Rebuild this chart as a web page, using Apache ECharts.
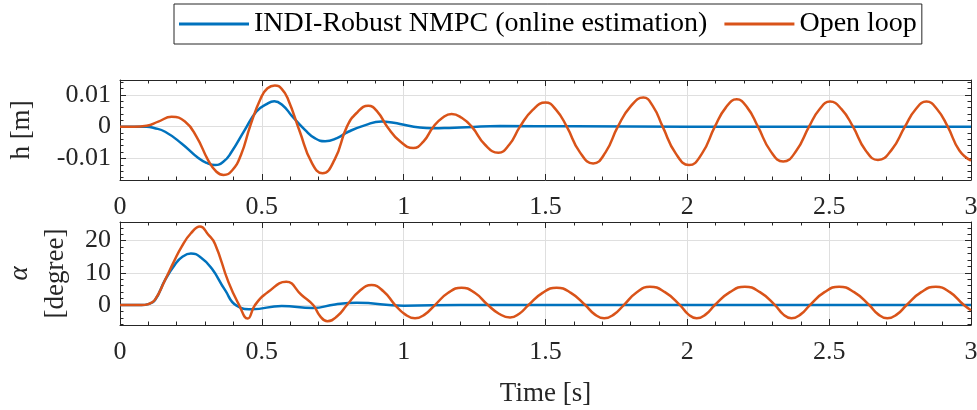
<!DOCTYPE html>
<html><head><meta charset="utf-8">
<script src="https://cdn.jsdelivr.net/npm/echarts@6/dist/echarts.min.js"></script>
<style>html,body{margin:0;padding:0;background:#fff}#c{width:977px;height:410px}</style>
</head><body><div id="c"></div>
<script>
// ---- data ----
const seriesNames = ['INDI-Robust NMPC (online estimation)', 'Open loop'];
const xTicks = [0, 0.5, 1, 1.5, 2, 2.5, 3];

const hCtrlT = [0, 0.05, 0.094, 0.12, 0.159, 0.217, 0.276, 0.305, 0.335, 0.365, 0.393, 0.44, 0.481, 0.515, 0.544, 0.575, 0.605, 0.652, 0.688, 0.723, 0.765, 0.805, 0.865, 0.922, 0.965, 1.005, 1.05, 1.104, 1.16, 1.222, 1.34, 1.6, 2.0, 2.5, 3.0];
const hCtrl  = [0, 0, 0, -0.0004, -0.0016, -0.0053, -0.0099, -0.0114, -0.0121, -0.0110, -0.0080, -0.0010, 0.0048, 0.0070, 0.0080, 0.0066, 0.0035, -0.0010, -0.0037, -0.0046, -0.0036, -0.0016, 0.0005, 0.0016, 0.0012, 0.0005, -0.0002, -0.0005, -0.0004, -0.0002, 0.0002, 0.0001, 0, 0, 0];

const hOpenT = [0, 0.05, 0.094, 0.135, 0.182, 0.229, 0.27, 0.311, 0.34, 0.365, 0.395, 0.426, 0.46, 0.497, 0.52, 0.546, 0.57, 0.593, 0.634, 0.675, 0.714, 0.757, 0.8, 0.8375, 0.875, 0.9085, 0.942, 0.988, 1.034, 1.0695, 1.105, 1.137, 1.169, 1.2045, 1.24, 1.287, 1.334, 1.372, 1.41, 1.455, 1.50, 1.5375, 1.575, 1.6215, 1.668, 1.7115, 1.755, 1.80, 1.845, 1.879, 1.913, 1.9595, 2.006, 2.0515, 2.097, 2.1355, 2.174, 2.2115, 2.249, 2.2935, 2.338, 2.3835, 2.429, 2.466, 2.503, 2.5435, 2.584, 2.628, 2.672, 2.7195, 2.767, 2.805, 2.843, 2.8805, 2.918, 2.959, 3.0];
const hOpen  = [0, 0, 0.0003, 0.0016, 0.0031, 0.0016, -0.0032, -0.0106, -0.0142, -0.0152, -0.0138, -0.0090, 0.0005, 0.0091, 0.0121, 0.0130, 0.0119, 0.0085, -0.0016, -0.0112, -0.0147, -0.0103, 0, 0.0046, 0.0066, 0.0046, 0, -0.0047, -0.0067, -0.0047, 0, 0.0028, 0.0040, 0.0028, 0, -0.0057, -0.0082, -0.0057, 0, 0.0053, 0.0076, 0.0053, 0, -0.0081, -0.0116, -0.0081, 0, 0.0064, 0.0092, 0.0064, 0, -0.0085, -0.0121, -0.0085, 0, 0.0060, 0.0086, 0.0060, 0, -0.0077, -0.0110, -0.0077, 0, 0.0055, 0.0079, 0.0055, 0, -0.0074, -0.0105, -0.0074, 0, 0.0055, 0.0079, 0.0055, 0, -0.0075, -0.0107];

const aCtrlT = [0, 0.076, 0.1, 0.123, 0.159, 0.194, 0.22, 0.25, 0.285, 0.323, 0.37, 0.411, 0.464, 0.57, 0.68, 0.758, 0.834, 1.0, 1.2, 2.0, 3.0];
const aCtrl  = [0, 0, 0.3, 1.5, 7.8, 12.6, 15.0, 16.0, 14.8, 11.4, 4.7, -0.2, -1.3, -0.3, -0.9, 0.2, 0.7, -0.2, 0, 0, 0];

const aOpenT = [0, 0.076, 0.1, 0.123, 0.159, 0.19, 0.217, 0.25, 0.282, 0.31, 0.335, 0.382, 0.42, 0.45, 0.476, 0.523, 0.586, 0.64, 0.681, 0.706, 0.731, 0.7655, 0.80, 0.8435, 0.887, 0.9285, 0.97, 1.005, 1.04, 1.075, 1.11, 1.157, 1.204, 1.2505, 1.297, 1.336, 1.375, 1.4075, 1.44, 1.4895, 1.539, 1.5895, 1.64, 1.6735, 1.707, 1.7415, 1.776, 1.822, 1.868, 1.921, 1.974, 2.0035, 2.033, 2.065, 2.097, 2.15, 2.203, 2.256, 2.309, 2.338, 2.367, 2.3995, 2.432, 2.4835, 2.535, 2.588, 2.641, 2.673, 2.705, 2.739, 2.773, 2.8245, 2.876, 2.9255, 2.975, 3.0];
const aOpen  = [0, 0, 0.3, 1.6, 7.8, 13.5, 18.1, 22.3, 24.4, 22.0, 19.0, 7.2, 0, -4.2, 0, 4.1, 7.2, 3.1, 0, -3.5, -5.0, -3.5, 0, 4.3, 6.2, 4.3, 0, -2.9, -4.1, -2.9, 0, 3.8, 5.4, 3.8, 0, -2.7, -3.9, -2.7, 0, 3.8, 5.4, 3.8, 0, -2.9, -4.1, -2.9, 0, 4.0, 5.7, 4.0, 0, -2.9, -4.1, -2.9, 0, 4.0, 5.7, 4.0, 0, -2.9, -4.1, -2.9, 0, 4.0, 5.7, 4.0, 0, -2.9, -4.1, -2.9, 0, 4.0, 5.7, 4.0, 0, -1.6];

const hRange = [-0.0168, 0.0147];
const aRange = [-6.2, 25.8];

// ---- chart ----
const zip = (t, v) => t.map((x, i) => [x, v[i]]);
const FONT = 'Liberation Serif';
const DARK = '#262626';
const GRIDC = '#dfdfdf';
const BLUE = '#0072BD', ORANGE = '#D95319';

function xAx(grid, pos, labels, name) {
  return {
    type: 'value', gridIndex: grid, position: pos, min: xTicks[0], max: xTicks[xTicks.length - 1], interval: 0.5,
    name: name || '', nameLocation: 'middle', nameGap: 55, nameMoveOverlap: false,
    nameTextStyle: { fontFamily: FONT, fontSize: 27, color: DARK },
    axisLine: { show: true, onZero: false, lineStyle: { color: DARK, width: 1 } },
    axisTick: { show: true, inside: true, length: 6, lineStyle: { color: DARK } },
    minorTick: { show: true, splitNumber: 5, length: 3.5, lineStyle: { color: DARK } },
    axisLabel: { show: labels, margin: 14, fontFamily: FONT, fontSize: 26, color: DARK },
    splitLine: { show: pos === 'bottom', lineStyle: { color: GRIDC, width: 1 } },
    minorSplitLine: { show: false }
  };
}
function yAx(grid, pos, range, labels, name, nameGap) {
  return {
    type: 'value', gridIndex: grid, position: pos, min: range[0], max: range[1], splitNumber: 3,
    name: name || '', nameLocation: 'middle', nameGap: nameGap || 0, nameRotate: 90, nameMoveOverlap: false,
    nameTextStyle: { fontFamily: FONT, fontSize: 27, color: DARK, lineHeight: 36,
      rich: { a: { fontFamily: FONT, fontSize: 27, fontStyle: 'italic', color: DARK, lineHeight: 36 } } },
    axisLine: { show: true, onZero: false, lineStyle: { color: DARK, width: 1 } },
    axisTick: { show: true, inside: true, length: 6, lineStyle: { color: DARK } },
    minorTick: { show: true, splitNumber: 5, length: 3.5, lineStyle: { color: DARK } },
    axisLabel: { show: labels, margin: 9, fontFamily: FONT, fontSize: 26, color: DARK, showMinLabel: false, showMaxLabel: false },
    splitLine: { show: pos === 'left', lineStyle: { color: GRIDC, width: 1 } }
  };
}
function line(name, data, xi, yi, color) {
  return { name, type: 'line', xAxisIndex: xi, yAxisIndex: yi, data, smooth: 0.5, symbol: 'none',
    lineStyle: { color, width: 2.5 }, itemStyle: { color }, animation: false };
}

const chart = echarts.init(document.getElementById('c'), null, { renderer: 'canvas' });
chart.setOption({
  animation: false,
  backgroundColor: '#fff',
  legend: {
    data: seriesNames, left: 174, top: 4, orient: 'horizontal', icon: 'rect',
    padding: [6, 5], itemGap: 17, itemWidth: 70, itemHeight: 3,
    borderColor: DARK, borderWidth: 1, backgroundColor: '#fff',
    textStyle: { fontFamily: FONT, fontSize: 28, color: '#000' }
  },
  grid: [
    { left: 120, right: 6, top: 80, height: 100, containLabel: false, outerBoundsMode: 'none' },
    { left: 120, right: 6, top: 222, height: 103, containLabel: false, outerBoundsMode: 'none' }
  ],
  xAxis: [xAx(0, 'bottom', true), xAx(0, 'top', false), xAx(1, 'bottom', true, 'Time [s]'), xAx(1, 'top', false)],
  yAxis: [yAx(0, 'left', hRange, true, 'h [m]', 80), yAx(0, 'right', hRange, false),
          yAx(1, 'left', aRange, true, '{a|α}\n[degree]', 46), yAx(1, 'right', aRange, false)],
  series: [
    line(seriesNames[0], zip(hCtrlT, hCtrl), 0, 0, BLUE),
    line(seriesNames[1], zip(hOpenT, hOpen), 0, 0, ORANGE),
    line(seriesNames[0], zip(aCtrlT, aCtrl), 2, 2, BLUE),
    line(seriesNames[1], zip(aOpenT, aOpen), 2, 2, ORANGE)
  ]
});
</script></body></html>
